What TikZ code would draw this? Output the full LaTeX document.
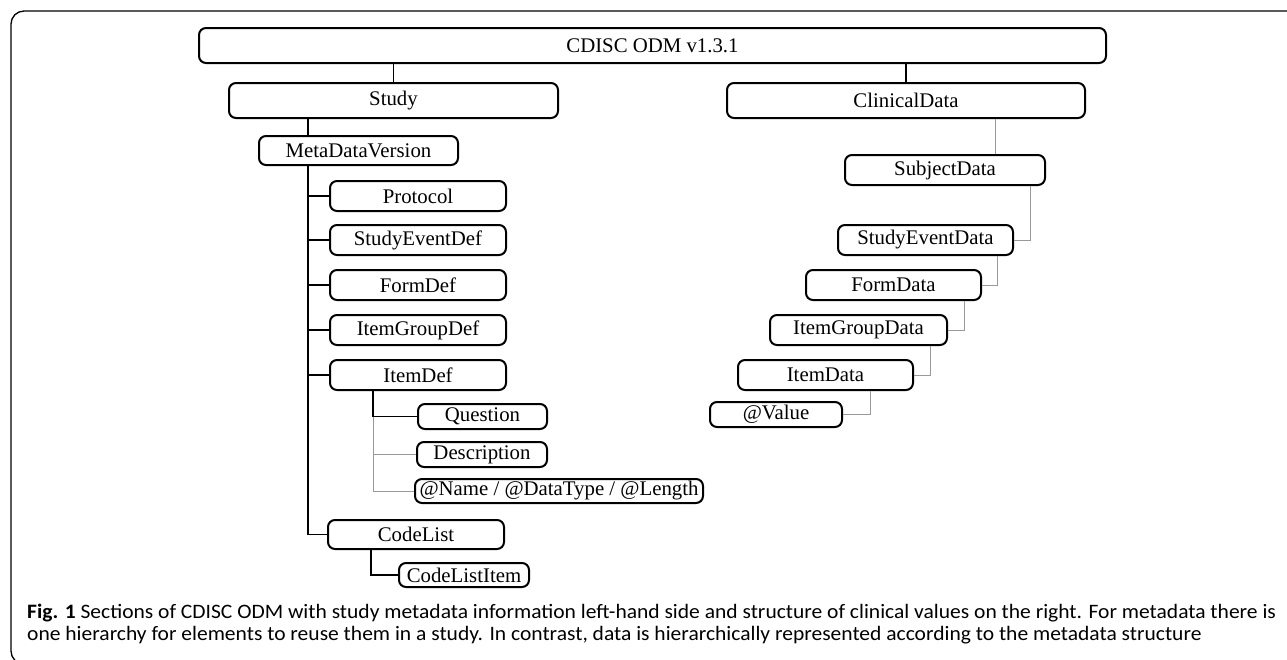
\documentclass[tikz,border=0pt]{standalone}
\usepackage{fontspec}
\setmainfont{Liberation Serif}
\newfontfamily\capfont[FakeStretch=1.05]{Carlito}
\usetikzlibrary{positioning,calc}

\begin{document}
\begin{tikzpicture}
		[x=1pt,y=-1pt,
			box/.style={draw,line width=2pt,rounded corners=7pt,inner sep=0pt,
					font=\fontsize{20.8}{24}\selectfont},
			conn/.style={line width=1.6pt},
			fine/.style={line width=1pt,draw=black!40},
			frame/.style={line width=1.3pt,rounded corners=13pt}]
		\useasboundingbox (0,0) rectangle (1287,659);
		\clip (0,0) rectangle (1287,659);
		\draw[frame] (11,664) rectangle (1320,11);

		% root and the two sections
		\node[box,minimum width=907,minimum height=35] (odm) at (652.5,45.5) {CDISC ODM v1.3.1};
		\node[box,minimum width=329,minimum height=35] (study) at (393.5,100.5) {Study};
		\node[box,minimum width=358,minimum height=35] (clin) at (906,100.5) {ClinicalData};

		% metadata side
		\node[box,minimum width=199,minimum height=29] (mdv) at (358.5,150.5) {MetaDataVersion};
		\node[box,minimum width=176,minimum height=30] (prot) at (418,196) {Protocol};
		\node[box,minimum width=176,minimum height=30] (sed) at (418,240) {StudyEventDef};
		\node[box,minimum width=176,minimum height=30] (fdef) at (418,285) {FormDef};
		\node[box,minimum width=176,minimum height=30] (igdef) at (418,330) {ItemGroupDef};
		\node[box,minimum width=176,minimum height=30] (idef) at (418,375) {ItemDef};
		\node[box,minimum width=129,minimum height=25] (quest) at (482.5,416.5) {Question};
		\node[box,minimum width=130,minimum height=25] (descr) at (482,454.5) {Description};
		\node[box,minimum width=288,minimum height=24] (attr) at (559,491) {@Name / @DataType / @Length};
		\node[box,minimum width=176,minimum height=29] (clist) at (416,534.5) {CodeList};
		\node[box,minimum width=130,minimum height=24] (clitem) at (464,575) {CodeListItem};

		% data side
		\node[box,minimum width=200,minimum height=30] (subj) at (945,170) {SubjectData};
		\node[box,minimum width=175,minimum height=30] (sedata) at (925.5,240) {StudyEventData};
		\node[box,minimum width=175,minimum height=30] (fdata) at (893.5,285) {FormData};
		\node[box,minimum width=177,minimum height=30] (igdata) at (858.5,330) {ItemGroupData};
		\node[box,minimum width=175,minimum height=30] (idata) at (825.5,375) {ItemData};
		\node[box,minimum width=132,minimum height=25] (val) at (776,414.5) {@Value};

		% connectors
		\draw[conn] (study.north) -- (study.north |- odm.south);
		\draw[conn] (clin.north) -- (clin.north |- odm.south);
		\coordinate (trunk) at ([xshift=50]mdv.south west);
		\draw[conn] ([xshift=50]mdv.north west) -- ([xshift=50]mdv.north west |- study.south);
		\draw[conn] (trunk) |- (clist.west);
		\foreach \n in {prot,sed,fdef,igdef,idef}
		\draw[conn] (\n.west) -- (\n.west -| trunk);
		\coordinate (sub) at ([xshift=44]idef.south west);
		\draw[conn] (sub) |- (quest.west);
		\draw[fine] (sub |- quest.west) |- (attr.west);
		\draw[fine] (descr.west) -- (descr.west -| sub);
		\draw[conn] ([xshift=44]clist.south west) |- (clitem.west);

		\draw[fine] ([xshift=50]subj.north) -- ([xshift=50]subj.north |- clin.south);
		\draw[fine] ([xshift=-16]subj.south east) |- (sedata.east);
		\draw[fine] ([xshift=-17]sedata.south east) |- (fdata.east);
		\draw[fine] ([xshift=-18]fdata.south east) |- (igdata.east);
		\draw[fine] ([xshift=-18]igdata.south east) |- (idata.east);
		\draw[fine] ([xshift=-44]idata.south east) |- (val.east);

		% caption
		\node[anchor=base west,inner sep=0pt,font=\capfont\fontsize{20.5}{24}\selectfont] (capline1) at (27,618)
		{\textbf{Fig. 1} Sections of CDISC ODM with study metadata information left-hand side and structure of clinical values on the right. For metadata there is};
		\node[anchor=base west,inner sep=0pt,font=\capfont\fontsize{20.5}{24}\selectfont] (capline2) at (27,640)
		{one hierarchy for elements to reuse them in a study. In contrast, data is hierarchically represented according to the metadata structure};
	\end{tikzpicture}
\end{document}
